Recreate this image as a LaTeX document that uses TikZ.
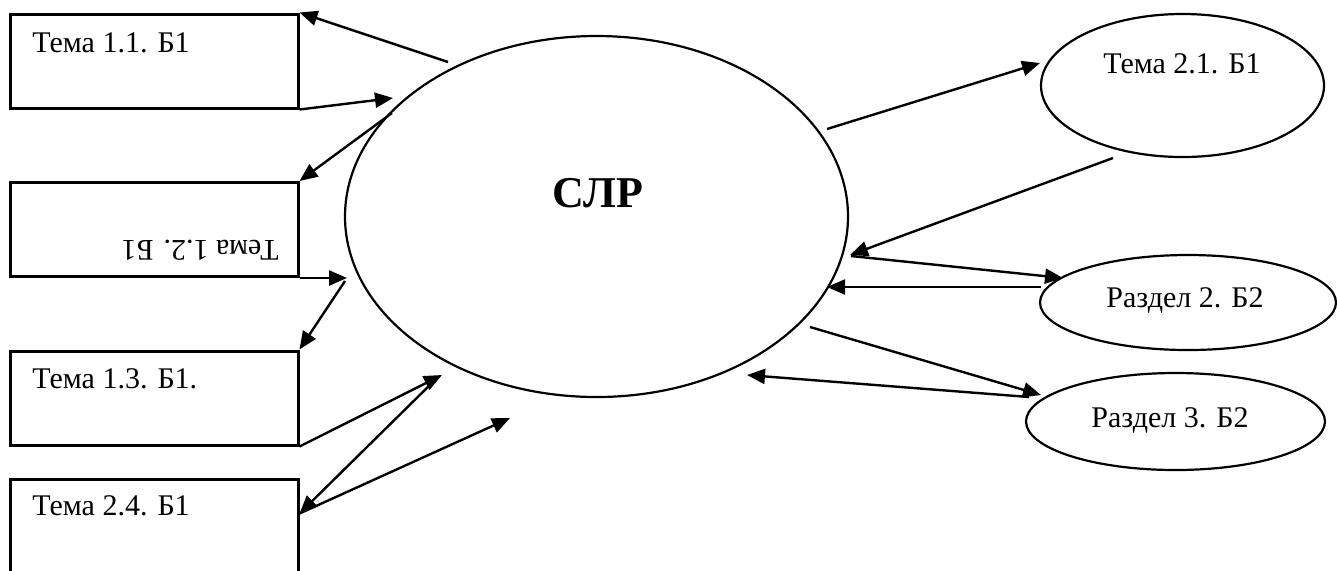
\documentclass[tikz,border=0pt]{standalone}
\usepackage{fontspec}
\setmainfont{Liberation Serif}
\usetikzlibrary{arrows.meta,shapes.geometric}
\tikzset{
  tembox/.style={draw, line width=1.5pt, minimum width=144pt, minimum height=47pt, inner sep=0pt},
  oval/.style={draw, ellipse, line width=1.1pt, inner sep=0pt},
  lbl/.style={font=\fontsize{15pt}{18pt}\selectfont, inner sep=0pt},
  arr/.style={line width=1.2pt, -{Triangle[length=9pt,width=7.5pt]}},
}
\begin{document}
\begin{tikzpicture}[x=0.5pt,y=-0.5pt]
  \useasboundingbox (0,0) rectangle (1337,570);
  \clip (0,0) rectangle (1337,570);
  % left boxes
  \node[tembox] (t11) at (154,61) {};
  \node[tembox] (t12) at (154,229.5) {};
  \node[tembox] (t13) at (154,398) {};
  \node[tembox] (t24) at (154,526) {};
  \node[lbl, anchor=base west] (t11lbl) at (32,52) {Тема 1.1. Б1};
  \node[lbl, rotate=180] (t12lbl) at (200,250) {Тема 1.2. Б1};
  \node[lbl, anchor=base west] (t13lbl) at (32,388) {Тема 1.3. Б1.};
  \node[lbl, anchor=base west] (t24lbl) at (32,515) {Тема 2.4. Б1};
  % main oval
  \node[oval, minimum width=251.5pt, minimum height=180.5pt] (slr) at (596.5,216.5) {};
  \node[font=\fontsize{22pt}{26pt}\selectfont\bfseries, inner sep=0pt, anchor=base] (slrlbl) at (598,207) {СЛР};
  % right ovals
  \node[oval, minimum width=141.5pt, minimum height=71.5pt] (t21) at (1182.5,85.5) {};
  \node[lbl, anchor=base] (t21lbl) at (1182,73) {Тема 2.1. Б1};
  \node[oval, minimum width=148pt, minimum height=47.5pt] (r2) at (1188,302.5) {};
  \node[lbl, anchor=base] (r2lbl) at (1185,307) {Раздел 2. Б2};
  \node[oval, minimum width=149.5pt, minimum height=48.5pt] (r3) at (1175.5,421.5) {};
  \node[lbl, anchor=base] (r3lbl) at (1170,427) {Раздел 3. Б2};
  % free ends of the arrows
  \coordinate (a1) at (448,62);
  \coordinate (a2) at (393,98);
  \coordinate (a3) at (392,113);
  \coordinate (a4) at (347,278);
  \coordinate (a5) at (345,281);
  \coordinate (a6) at (442,375);
  \coordinate (a7) at (436,379);
  \coordinate (a8) at (510,418);
  \coordinate (t24r) at ([yshift=-18pt]t24.north east);
  \coordinate (b1s) at (827,129);
  \coordinate (b1e) at (1040,63);
  \coordinate (b2s) at (1113,158);
  \coordinate (b2e) at (850,255);
  \coordinate (b3s) at (851,256);
  \coordinate (b3e) at (1063,278);
  \coordinate (b4s) at (1041,287);
  \coordinate (b4e) at (827,287);
  \coordinate (b5s) at (810,327);
  \coordinate (b5e) at (1041,395);
  \coordinate (b6s) at (1029,397);
  \coordinate (b6e) at (747,375);
  % left arrows
  \draw[arr] (a1) -- (t11.north east);
  \draw[arr] (t11.south east) -- (a2);
  \draw[arr] (a3) -- (t12.north east);
  \draw[arr] (t12.south east) -- (a4);
  \draw[arr] (a5) -- (t13.north east);
  \draw[arr] (t13.south east) -- (a6);
  \draw[arr] (a7) -- (t24r);
  \draw[arr] (t24r) -- (a8);
  % right arrows
  \draw[arr] (b1s) -- (b1e);
  \draw[arr] (b2s) -- (b2e);
  \draw[arr] (b3s) -- (b3e);
  \draw[arr] (b4s) -- (b4e);
  \draw[arr] (b5s) -- (b5e);
  \draw[arr] (b6s) -- (b6e);
\end{tikzpicture}
\end{document}
